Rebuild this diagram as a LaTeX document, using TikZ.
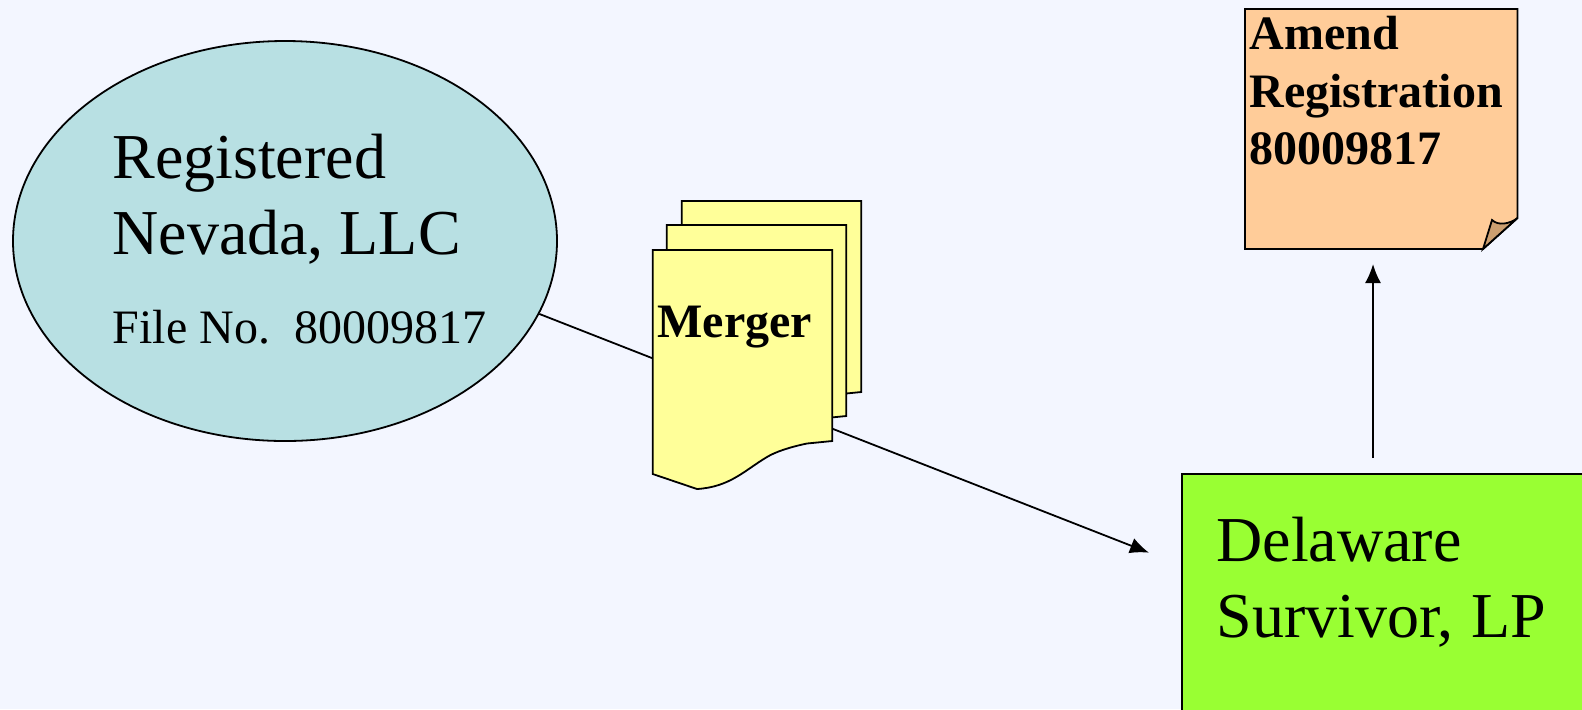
\documentclass[tikz,border=0pt]{standalone}
\usepackage{fontspec}
\setmainfont{Liberation Serif}
\usetikzlibrary{shapes.geometric,arrows.meta}

\definecolor{paper}{HTML}{F3F6FF}
\definecolor{regblue}{HTML}{B8E0E3}
\definecolor{docyellow}{HTML}{FFFF99}
\definecolor{noteorange}{HTML}{FFCC99}
\definecolor{notefold}{HTML}{CC9F70}
\definecolor{survgreen}{HTML}{99FF33}

\tikzset{
  outline/.style = {draw, line width=0.9pt},
  bigtext/.style = {inner sep=0pt, anchor=north west, align=left, font=\fontsize{32}{38}\selectfont},
  smalltext/.style = {inner sep=0pt, anchor=north west, align=left, font=\fontsize{24}{24}\selectfont},
  boldtext/.style = {inner sep=0pt, anchor=north west, align=left, font=\fontsize{24}{28.75}\selectfont\bfseries},
  link/.style = {line width=0.9pt, -{Latex[length=9.5pt,width=8pt]}}
}

\begin{document}
\begin{tikzpicture}[x=0.5pt, y=-0.5pt]

\path[use as bounding box, clip] (0,0) rectangle (1582,709);
\fill[paper] (0,0) rectangle (1582,709);

\node[outline, ellipse, fill=regblue, inner sep=0pt, minimum width=272pt, minimum height=200pt] (reg) at (285,241) {};
\node[bigtext] (regname) at (112,134) {Registered\\Nevada, LLC};
\node[smalltext] (regfile) at (112.5,310) {File No.\ \ 80009817};

\coordinate (mergetip) at (1149,552.7);
\coordinate (upstart) at (1373,458);
\coordinate (uptip) at (1373,264);

\draw[link] (reg.-16) -- (mergetip);

% The three pages, back to front
\foreach \dx/\dy in {29/-49,14/-25,0/0}
  \draw[outline, fill=docyellow, shift={(\dx,\dy)}] (652.7,250) -- (832.3,250) -- (832.3,441)
    -- (807,443.5) .. controls (790,447) and (775,452) .. (767,457)
    .. controls (745,470) and (730,487) .. (697,489)
    -- (652.7,474) -- cycle;
\node[boldtext] (merger) at (657,306) {Merger};

% The note with its turned corner
\draw[outline, fill=noteorange] (1245,9) -- (1517.5,9) -- (1517.5,218) -- (1483,249) -- (1245,249) -- cycle;
\draw[outline, fill=notefold] (1483,249) -- (1492,220) .. controls (1498,226) and (1510,224) .. (1517.5,218) -- cycle;
\node[boldtext] (amend) at (1249,16) {Amend\\Registration\\80009817};

\node[outline, fill=survgreen, anchor=north west, inner sep=0pt, minimum width=250pt, minimum height=200pt] (survivor) at (1181,472.7) {};
\node[bigtext] (survname) at (1216,517) {Delaware\\Survivor,\kern1pt\ LP};

\draw[link] (upstart) -- (uptip);

\end{tikzpicture}
\end{document}
